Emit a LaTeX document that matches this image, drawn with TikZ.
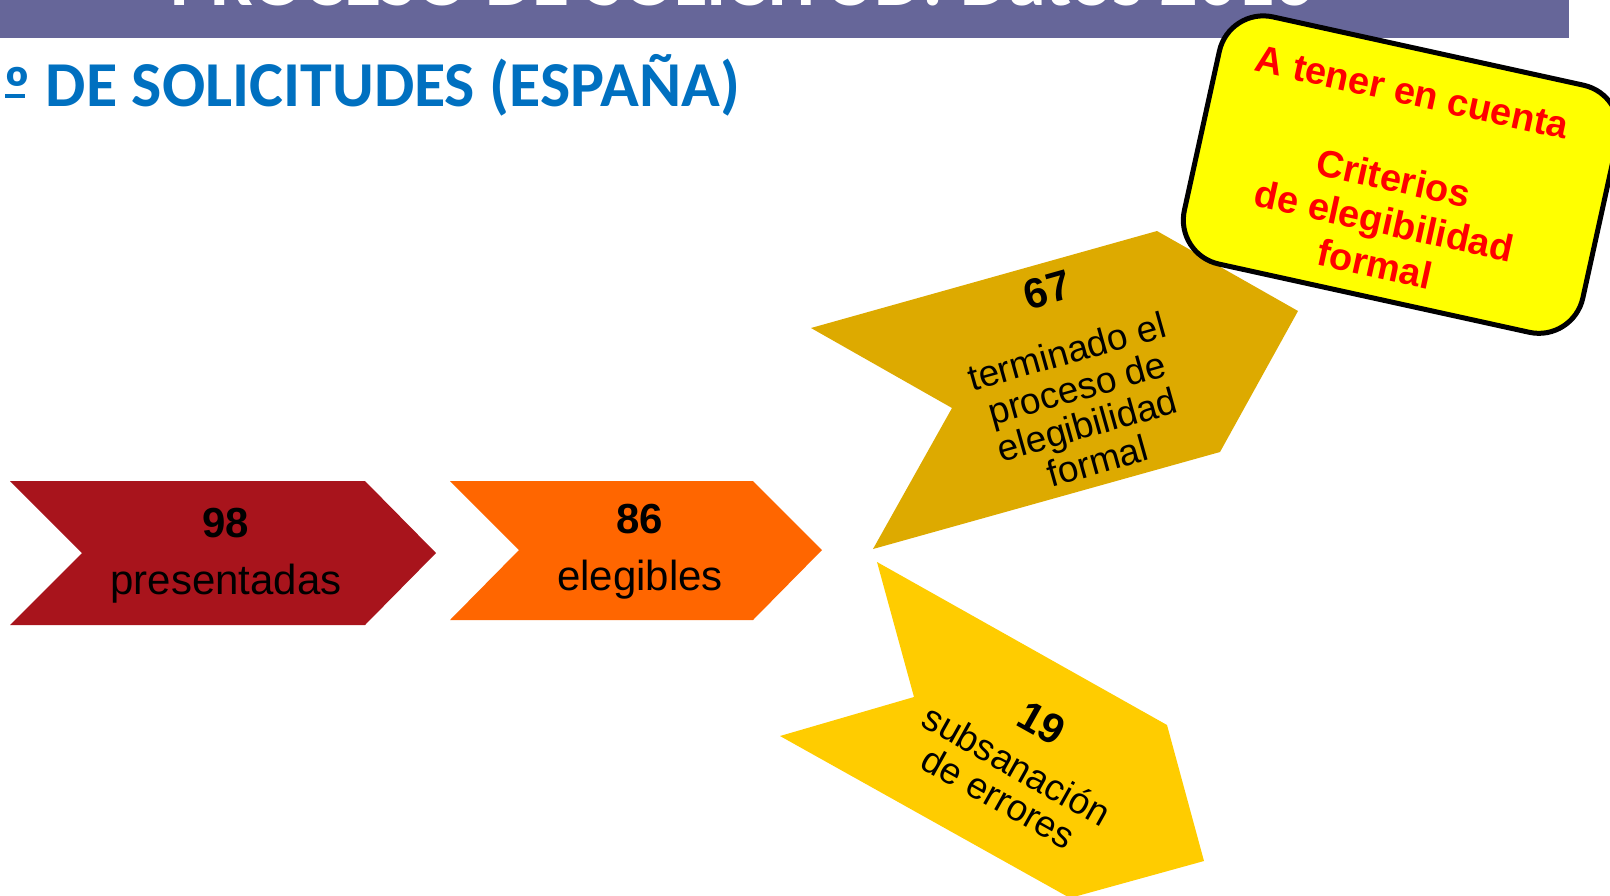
\documentclass[tikz,border=0pt]{standalone}
\usepackage{fontspec}
\setmainfont{Liberation Sans}
\newfontfamily\carlito{Carlito}
\usepackage{tikz}
\definecolor{barra}{HTML}{666699}
\definecolor{azul}{HTML}{0070C0}
\definecolor{granate}{HTML}{A8141C}
\definecolor{naranja}{HTML}{FF6600}
\definecolor{ocre}{HTML}{DDAA00}
\definecolor{oro}{HTML}{FFCC00}
\definecolor{amarillo}{HTML}{FFFF00}
\newcommand\ordsub{\rlap{\hspace{1.5pt}\rule[8.5pt]{20pt}{3.5pt}}\raisebox{-5pt}{º}}
\tikzstyle{num}=[font=\fontsize{42}{46}\selectfont\bfseries, inner sep=0]
\tikzstyle{txt}=[font=\fontsize{42}{46}\selectfont, inner sep=0]
\tikzstyle{nota}=[draw, line width=5, fill=amarillo, rounded corners=45, minimum width=408, minimum height=253]
\tikzstyle{notatxt}=[font=\fontsize{38}{44}\selectfont\bfseries, text=red, align=center, inner sep=0]

\begin{document}
\begin{tikzpicture}[x=1pt, y=-1pt]
	\useasboundingbox (0,0) rectangle (1610,895);
	\clip (0,0) rectangle (1610,895);
	% cabecera
	\fill[barra] (0,0) rectangle (1569,38);
	\node[anchor=base west, inner sep=0, text=white, font=\carlito\bfseries\fontsize{76}{80}\selectfont] (cabecera) at (170,5) {PROCESO DE SOLICITUD: Datos 2016};
	\node[anchor=base east, inner sep=0, text=azul, font=\carlito\bfseries\fontsize{64}{70}\selectfont] (titulo) at (740,106) {\ordsub{} DE SOLICITUDES (ESPAÑA)};
	% flechas
	\fill[granate] (10,481) -- (365,481) -- (436,553) -- (365,625) -- (10,625) -- (82,553) -- cycle;
	\fill[naranja] (450,481) -- (753,481) -- (822,550) -- (753,620) -- (450,620) -- (519,550) -- cycle;
	\fill[ocre] (811,328) -- (1157,231) -- (1298,311) -- (1220,452) -- (873,549) -- (952,408) -- cycle;
	\fill[oro] (877,562) -- (1167,725) -- (1204,861) -- (1070,898) -- (780,736) -- (914,697) -- cycle;
	% textos
	\node[num, anchor=base] (n98) at (226,537) {98};
	\node[txt, anchor=base] (presentadas) at (226,594) {presentadas};
	\node[num, anchor=base] (n86) at (640,533) {86};
	\node[txt, anchor=base] (elegibles) at (640,590) {elegibles};
	\node[num, rotate=15.7] (n67) at (1047.5,290) {67};
	\node[txt, rotate=15.7, align=center, font=\fontsize{37}{38}\selectfont] (terminado) at (1082,406) {terminado el\\proceso de\\elegibilidad\\formal};
	\node[num, rotate=-29.3] (n19) at (1041.7,723.3) {19};
	\node[txt, rotate=-29.3, align=center, font=\fontsize{37}{37}\selectfont] (subsanacion) at (1008,781) {subsanación\\de errores};
	% aviso
	\node[nota, rotate=-12.4] (aviso) at (1401.1,174.6) {};
	\node[notatxt, rotate=-12.4] (avisotxt) at (1393.5,178.5) {A tener en cuenta\\[44pt]Criterios\\de elegibilidad\\formal};
\end{tikzpicture}
\end{document}
